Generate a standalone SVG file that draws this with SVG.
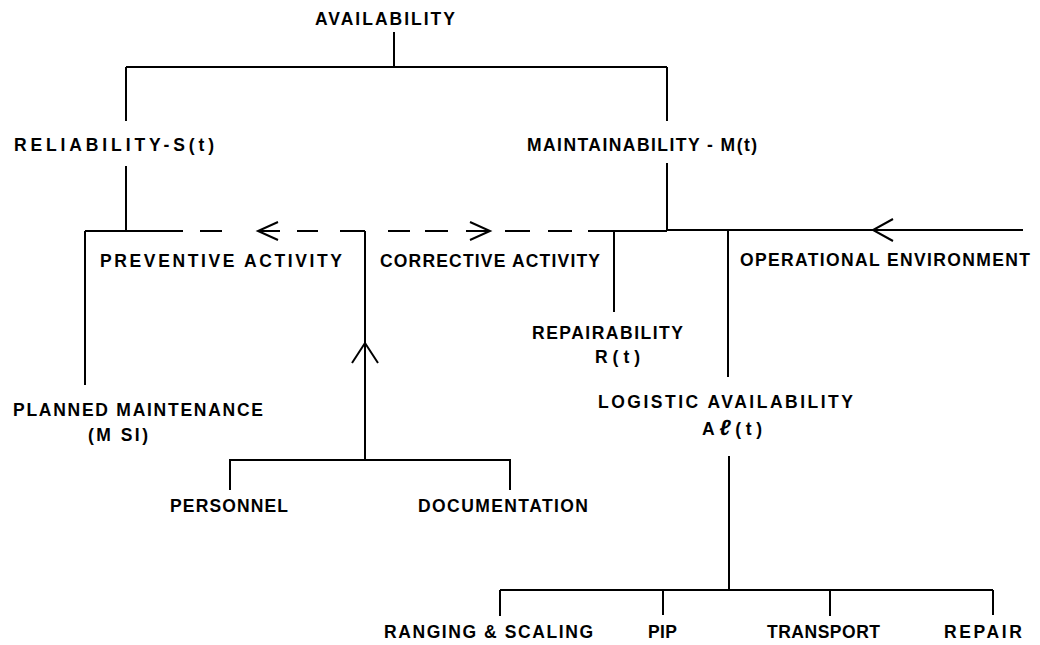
<svg xmlns="http://www.w3.org/2000/svg" width="1040" height="645" viewBox="0 0 1040 645">
<style>
text{font-family:"Liberation Sans",Arial,sans-serif;font-weight:bold;font-size:17.5px;fill:#000}
.ln{stroke:#000;stroke-width:2;fill:none;stroke-linecap:butt;stroke-linejoin:miter}
</style>
<rect width="1040" height="645" fill="#fff"/>
<g id="connectors" class="ln">
<path d="M394,32V67M126,67H667M126,67V121M667,67V121"/>
<path d="M126,166V231M667,163V230"/>
<path d="M85,231H183M200,231H222M258,231H280M297,231H318M340,231H365"/>
<path d="M278,222L258,231L278,240"/>
<path d="M388,231H410M425,231H448M466,231H490M505,231H530M548,231H572M588,231H667"/>
<path d="M470,222L490,231L470,240"/>
<path d="M667,230H1023"/>
<path d="M893,219L873,230L893,241"/>
<path d="M85,231V385"/>
<path d="M365,231V460M229,460H511M230,460V490M510,460V490"/>
<path d="M352,363L365,343L378,363"/>
<path d="M614,231V312M728,231V377"/>
<path d="M729,456V590M500,590H993M500,590V616M663,590V615M830,590V616M993,590V615"/>
</g>
<g id="n-availability"><text x="315" y="25" textLength="140" lengthAdjust="spacing">AVAILABILITY</text></g>
<g id="n-reliability"><text x="14" y="151" textLength="200" lengthAdjust="spacing">RELIABILITY-S(t)</text></g>
<g id="n-maintainability"><text x="527" y="151" textLength="230" lengthAdjust="spacing">MAINTAINABILITY - M(t)</text></g>
<g id="n-preventive"><text x="100" y="267" textLength="242" lengthAdjust="spacing">PREVENTIVE ACTIVITY</text></g>
<g id="n-corrective"><text x="380" y="267" textLength="220" lengthAdjust="spacing">CORRECTIVE ACTIVITY</text></g>
<g id="n-operational"><text x="740" y="266" textLength="290" lengthAdjust="spacing">OPERATIONAL ENVIRONMENT</text></g>
<g id="n-planned"><text x="13" y="416" textLength="250" lengthAdjust="spacing">PLANNED MAINTENANCE</text><text x="88" y="441" textLength="60" lengthAdjust="spacing">(M SI)</text></g>
<g id="n-repairability"><text x="532" y="339" textLength="151" lengthAdjust="spacing">REPAIRABILITY</text><text x="595" y="363" textLength="45" lengthAdjust="spacing">R(t)</text></g>
<g id="n-logistic"><text x="598" y="408" textLength="255" lengthAdjust="spacing">LOGISTIC AVAILABILITY</text><text x="702" y="435" textLength="60" lengthAdjust="spacing">A<tspan font-style="italic" font-size="22">ℓ</tspan>(t)</text></g>
<g id="n-personnel"><text x="170" y="512" textLength="118" lengthAdjust="spacing">PERSONNEL</text></g>
<g id="n-documentation"><text x="418" y="512" textLength="170" lengthAdjust="spacing">DOCUMENTATION</text></g>
<g id="n-ranging"><text x="384" y="638" textLength="209" lengthAdjust="spacing">RANGING &amp; SCALING</text></g>
<g id="n-pip"><text x="648" y="638" textLength="29" lengthAdjust="spacing">PIP</text></g>
<g id="n-transport"><text x="767" y="638" textLength="113" lengthAdjust="spacing">TRANSPORT</text></g>
<g id="n-repair"><text x="944" y="638" textLength="78" lengthAdjust="spacing">REPAIR</text></g>
</svg>
